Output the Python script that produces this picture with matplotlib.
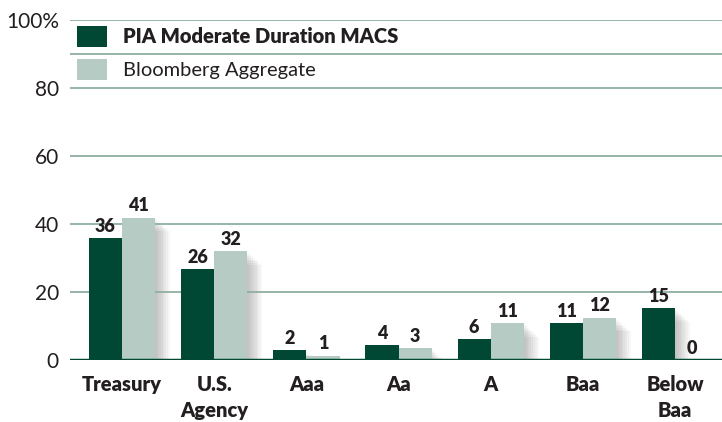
import numpy as np
import matplotlib
matplotlib.use('Agg')
import matplotlib.pyplot as plt

categories = ['Treasury', 'U.S.\nAgency', 'Aaa', 'Aa', 'A', 'Baa', 'Below\nBaa']
pia = [35.9, 26.7, 2.9, 4.4, 6.2, 10.9, 15.3]
bbg = [41.9, 32.0, 1.3, 3.5, 10.9, 12.4, 0.0]
pia_labels = ['36', '26', '2', '4', '6', '11', '15']
bbg_labels = ['41', '32', '1', '3', '11', '12', '0']
yticks = [0, 20, 40, 60, 80, 100]
ytick_labels = ['0', '20', '40', '60', '80', '100%']

dark = '#004833'
light = '#b6cbc3'
grid = '#8fb0a0'
txt = '#231f20'
font = 'Lato'

fig = plt.figure(figsize=(7.22, 4.22), dpi=100)
ax = fig.add_axes([70/722, 62/422, 652/722, 340/422])

x = np.arange(len(categories))
w = 0.36

# soft shadow behind the bars
for k in range(8):
  off = 0.01 * (k + 1)
  ax.bar(x - w/2 + off * 2, pia, w, bottom=-off*50, color='black', alpha=0.03, zorder=1, linewidth=0)
  ax.bar(x + w/2 + off * 2, bbg, w, bottom=-off*50, color='black', alpha=0.03, zorder=1, linewidth=0)

ax.bar(x - w/2, pia, w, color=dark, zorder=3, label='PIA Moderate Duration MACS')
ax.bar(x + w/2, bbg, w, color=light, zorder=3, label='Bloomberg Aggregate')

for i in range(len(x)):
  ax.text(x[i] - w/2, pia[i] + 1.0, pia_labels[i], ha='center', va='bottom',
          fontsize=13, fontweight='heavy', color=txt, family=font, zorder=4)
  ax.text(x[i] + w/2, bbg[i] + 1.0, bbg_labels[i], ha='center', va='bottom',
          fontsize=13, fontweight='heavy', color=txt, family=font, zorder=4)

for v in yticks[1:]:
  ax.axhline(v, color=grid, linewidth=1.3, zorder=2)
ax.axhline(90, color=grid, linewidth=1.3, zorder=2)
ax.axhline(0, color=dark, linewidth=2.5, zorder=5)

ax.set_xlim(-0.565, 6.51)
ax.set_ylim(0, 100)
ax.set_yticks(yticks)
ax.set_yticklabels(ytick_labels, fontsize=15, color=txt, family=font)
ax.set_xticks(x)
ax.set_xticklabels(categories, fontsize=14.5, fontweight='heavy', color=txt, family=font, linespacing=1.45)
ax.tick_params(length=0, axis='y', pad=8)
ax.tick_params(length=0, axis='x', pad=11)
for s in ax.spines.values():
  s.set_visible(False)

# legend: squares + text
handles, labels = ax.get_legend_handles_labels()
leg = ax.legend(handles, labels, loc='upper left', bbox_to_anchor=(-0.012, 1.027), frameon=False,
                handlelength=1.5, handleheight=1.25, handletextpad=0.75, labelspacing=0.58,
                prop={'family': font, 'size': 14.5}, borderaxespad=0.35)
leg.get_texts()[0].set_fontweight('heavy')
for t in leg.get_texts():
  t.set_color(txt)

plt.savefig('out.png', dpi=100)
